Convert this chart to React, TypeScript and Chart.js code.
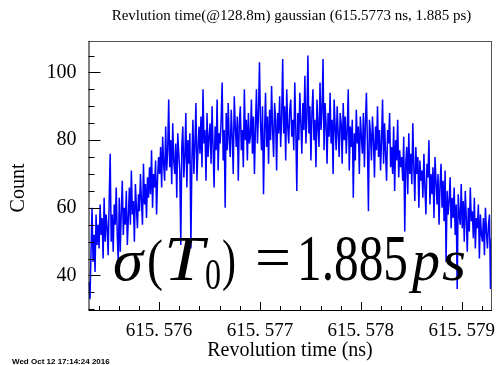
import React, { useEffect, useRef } from "react";
import { Chart, registerables } from "chart.js";

Chart.register(...registerables);

const X_MIN = 615.5753;
const X_MAX = 615.5793;
const Y_MIN = 29.8;
const Y_MAX = 109.3;

const xTickValues = [615.576, 615.577, 615.578, 615.579];
const yTickValues = [40, 60, 80, 100];

const titleText = "Revlution time(@128.8m) gaussian (615.5773 ns, 1.885 ps)";
const xTitle = "Revolution time (ns)";
const yTitle = "Count";
const dateText = "Wed Oct 12 17:14:24 2016";

// histogram bin contents, left to right (400 bins)
const counts = [
  38, 33, 47, 60, 44, 52, 41, 58, 49, 55,
  48, 61, 52, 57, 45, 63, 50, 58, 54, 46,
  62, 76, 50, 58, 47, 61, 55, 66, 52, 44,
  63, 47, 59, 68, 52, 60, 55, 65, 49, 57,
  66, 55, 71, 58, 62, 50, 67, 60, 54, 64,
  59, 70, 62, 55, 73, 61, 67, 57, 69, 63,
  72, 64, 77, 60, 70, 66, 74, 58, 69, 75,
  70, 78, 66, 81, 73, 68, 84, 71, 77, 92,
  72, 80, 67, 85, 74, 70, 79, 63, 82, 76,
  71, 49, 78, 84, 69, 75, 88, 66, 80, 73,
  82, 48, 74, 86, 70, 79, 91, 68, 77, 84,
  76, 87, 72, 95, 79, 83, 68, 88, 75, 81,
  85, 73, 90, 78, 66, 84, 77, 92, 71, 82,
  79, 86, 97, 74, 83, 60, 88, 77, 91, 80,
  75, 89, 81, 70, 93, 84, 78, 87, 68, 85,
  90, 77, 83, 72, 95, 80, 86, 74, 88, 79,
  81, 92, 76, 87, 70, 84, 95, 79, 88, 103,
  85, 77, 90, 64, 82, 94, 78, 87, 73, 89,
  80, 96, 83, 75, 91, 86, 71, 88, 82, 93,
  78, 87, 104, 82, 90, 74, 95, 84, 79, 89,
  92, 81, 86, 77, 97, 83, 65, 88, 80, 94,
  85, 76, 91, 83, 99, 79, 87, 105, 82, 90,
  74, 88, 95, 80, 86, 72, 92, 84, 78, 97,
  83, 89, 104, 77, 91, 85, 73, 88, 81, 94,
  79, 86, 70, 92, 84, 77, 90, 82, 75, 88,
  85, 73, 91, 80, 87, 76, 83, 95, 71, 84,
  78, 86, 63, 82, 74, 89, 79, 84, 70, 87,
  81, 76, 88, 72, 85, 94, 79, 59, 86, 82,
  74, 87, 80, 69, 84, 77, 90, 75, 83, 71,
  80, 92, 73, 85, 76, 68, 83, 79, 88, 72,
  78, 70, 84, 65, 80, 74, 86, 69, 77, 72,
  75, 68, 81, 53, 73, 78, 64, 82, 70, 76,
  67, 85, 72, 62, 78, 70, 75, 60, 74, 68,
  71, 63, 76, 66, 58, 73, 69, 80, 61, 70,
  64, 72, 57, 75, 68, 61, 70, 55, 67, 73,
  60, 68, 56, 71, 44, 65, 58, 62, 69, 54,
  63, 57, 66, 52, 61, 36, 64, 58, 55, 67,
  54, 62, 50, 65, 57, 47, 60, 53, 66, 56,
  59, 51, 63, 48, 57, 54, 61, 45, 58, 52,
  50, 57, 46, 60, 53, 48, 55, 58, 36, 51,
];

const binWidth = (X_MAX - X_MIN) / counts.length;
const points = counts.map((c, i) => ({ x: X_MIN + (i + 0.5) * binWidth, y: c }));

const SERIF = "'Liberation Serif', 'DejaVu Serif', serif";

function drawFit(
  ctx: CanvasRenderingContext2D,
  text: string,
  x: number,
  baseline: number,
  width: number,
  font: string
) {
  ctx.font = font;
  const w = ctx.measureText(text).width;
  ctx.save();
  ctx.translate(x, baseline);
  ctx.scale(width / w, 1);
  ctx.textAlign = "left";
  ctx.textBaseline = "alphabetic";
  ctx.fillText(text, 0, 0);
  ctx.restore();
}

const decorPlugin = {
  id: "rootDecor",
  afterDraw(chart: any) {
    const ctx: CanvasRenderingContext2D = chart.ctx;
    const { left, right, top, bottom } = chart.chartArea;
    const xs = chart.scales.x;
    const ys = chart.scales.y;
    ctx.save();
    // frame
    ctx.strokeStyle = "#555";
    ctx.lineWidth = 1;
    ctx.beginPath();
    ctx.moveTo(left, top + 0.5);
    ctx.lineTo(right, top + 0.5);
    ctx.moveTo(right - 0.5, top);
    ctx.lineTo(right - 0.5, bottom);
    ctx.stroke();
    ctx.strokeStyle = "#000";
    ctx.beginPath();
    ctx.moveTo(left + 0.5, top);
    ctx.lineTo(left + 0.5, bottom);
    ctx.moveTo(left, bottom + 0.5);
    ctx.lineTo(right, bottom + 0.5);
    // y ticks
    for (let v = 30; v <= 105; v += 5) {
      const py = Math.round(ys.getPixelForValue(v)) + 0.5;
      const len = v % 20 === 0 ? 12 : 6;
      ctx.moveTo(left, py);
      ctx.lineTo(left + len, py);
    }
    // x ticks
    for (let k = 0; k <= 20; k++) {
      const v = 615.5754 + k * 0.0002;
      if (v > X_MAX) break;
      const px = Math.round(xs.getPixelForValue(v)) + 0.5;
      const r = (v - 615.576) / 0.001;
      const major = Math.abs(r - Math.round(r)) < 1e-6;
      const len = major ? 8 : 4;
      ctx.moveTo(px, bottom);
      ctx.lineTo(px, bottom - len);
    }
    ctx.stroke();

    ctx.fillStyle = "#000";
    // title
    ctx.font = `15px ${SERIF}`;
    ctx.textAlign = "center";
    ctx.textBaseline = "alphabetic";
    ctx.fillText(titleText, 291.5, 20);
    // x title
    ctx.font = `20px ${SERIF}`;
    ctx.fillText(xTitle, 290, 356);
    // y title
    ctx.save();
    ctx.translate(24, 188);
    ctx.rotate(-Math.PI / 2);
    ctx.textAlign = "center";
    ctx.fillText(yTitle, 0, 0);
    ctx.restore();
    // date
    ctx.font = "bold 8px 'Liberation Sans', Arial, sans-serif";
    ctx.textAlign = "left";
    ctx.fillText(dateText, 12, 364);

    // big annotation
    const base = 280;
    const it = `italic 60px ${SERIF}`;
    const rm = `62px ${SERIF}`;
    drawFit(ctx, "\u03c3", 113, base, 30, it);
    drawFit(ctx, "(", 147, base - 1, 16, `58px ${SERIF}`);
    drawFit(ctx, "T", 164, base, 40, `italic 64px ${SERIF}`);
    drawFit(ctx, "0", 205, base + 9, 16, `44px ${SERIF}`);
    drawFit(ctx, ")", 222, base - 1, 14, `58px ${SERIF}`);
    drawFit(ctx, "=", 255, base - 2, 36, rm);
    drawFit(ctx, "1.885", 297, base, 111, `66px ${SERIF}`);
    drawFit(ctx, "p", 412, base, 28, it);
    drawFit(ctx, "s", 442, base, 24, it);
    ctx.restore();
  },
};

export default function App() {
  const ref = useRef<HTMLCanvasElement | null>(null);
  useEffect(() => {
    if (!ref.current) return;
    const chart = new Chart(ref.current, {
      type: "line",
      data: {
        datasets: [
          {
            data: points,
            borderColor: "#0000ff",
            borderWidth: 1.5,
            pointRadius: 0,
            tension: 0,
            fill: false,
          },
        ],
      },
      options: {
        responsive: false,
        animation: false,
        layout: { padding: { left: 0, right: 9, top: 41, bottom: 0 } },
        plugins: {
          legend: { display: false },
          tooltip: { enabled: false },
          title: { display: false },
        },
        scales: {
          x: {
            type: "linear",
            min: X_MIN,
            max: X_MAX,
            afterBuildTicks: (s: any) => {
              s.ticks = xTickValues.map((v) => ({ value: v }));
            },
            afterFit: (s: any) => {
              s.height = 55;
            },
            grid: { display: false },
            border: { display: false },
            ticks: {
              font: { family: SERIF, size: 19 },
              color: "#000",
              padding: 2,
              maxRotation: 0,
              autoSkip: false,
              callback: (v: any) => Number(v).toFixed(3).replace(".", ". "),
            },
          },
          y: {
            type: "linear",
            min: Y_MIN,
            max: Y_MAX,
            afterBuildTicks: (s: any) => {
              s.ticks = yTickValues.map((v) => ({ value: v }));
            },
            afterFit: (s: any) => {
              s.width = 88.5;
            },
            grid: { display: false },
            border: { display: false },
            ticks: {
              font: { family: SERIF, size: 20 },
              color: "#000",
              padding: 4,
              autoSkip: false,
              callback: (v: any) => String(v),
            },
          },
        },
      },
      plugins: [decorPlugin],
    });
    return () => chart.destroy();
  }, []);
  return (
    <div style={{ position: "fixed", left: 0, top: 0, width: 501, height: 365, background: "#fff" }}>
      <canvas ref={ref} width={501} height={365} style={{ width: 501, height: 365 }} />
    </div>
  );
}
